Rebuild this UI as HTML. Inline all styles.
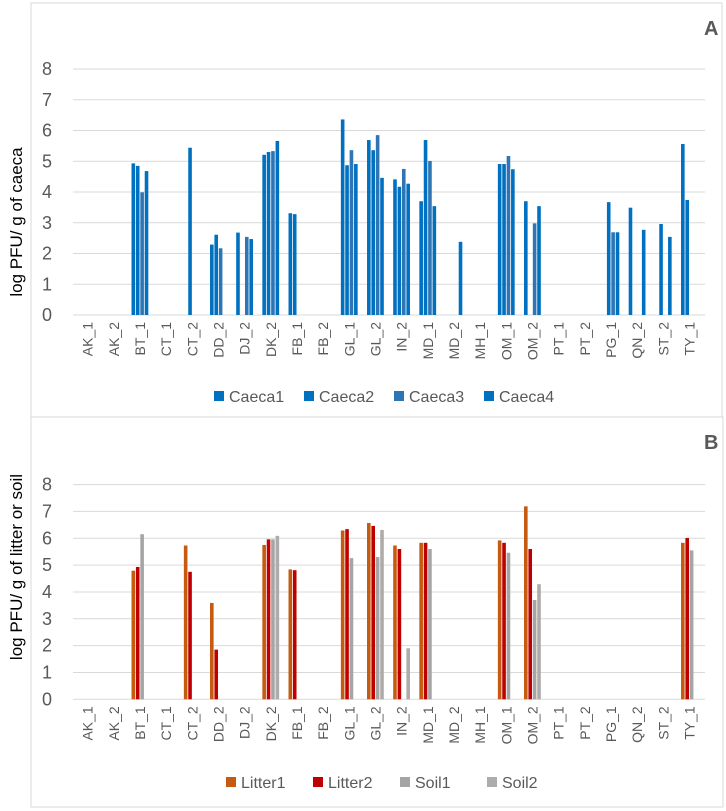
<!DOCTYPE html>
<html><head><meta charset="utf-8">
<style>
html,body{margin:0;padding:0;background:#fff;}
svg{display:block;font-family:"Liberation Sans",sans-serif;}
</style></head>
<body>
<svg id="c" width="726" height="811" viewBox="0 0 726 811">
  <rect x="31" y="3" width="691" height="414" fill="#fff" stroke="#d9d9d9" stroke-width="1"/>
  <rect x="31" y="417" width="692" height="390" fill="#fff" stroke="#d9d9d9" stroke-width="1"/>
  <text x="704" y="35" font-size="20" font-weight="bold" fill="#595959">A</text>
  <text x="704" y="449" font-size="20" font-weight="bold" fill="#595959">B</text>
  <text transform="translate(22,222) rotate(-90)" text-anchor="middle" font-size="17" fill="#000">log PFU/ g of caeca</text>
  <text transform="translate(22,567) rotate(-90)" text-anchor="middle" font-size="17" fill="#000">log PFU/ g of litter or soil</text>
  <g id="ga"></g>
  <g id="gb"></g>
</svg>
<script>
const categories = ["AK_1","AK_2","BT_1","CT_1","CT_2","DD_2","DJ_2","DK_2","FB_1","FB_2","GL_1","GL_2","IN_2","MD_1","MD_2","MH_1","OM_1","OM_2","PT_1","PT_2","PG_1","QN_2","ST_2","TY_1"];
const yTicks = [0,1,2,3,4,5,6,7,8];
const seriesNamesA = ["Caeca1","Caeca2","Caeca3","Caeca4"];
const caeca1 = [0,0,4.93,0,0,2.29,2.68,5.21,3.31,0,6.36,5.69,4.41,3.70,0,0,4.91,3.70,0,0,0,3.49,0,5.56];
const caeca2 = [0,0,4.85,0,5.44,2.61,0,5.30,3.28,0,4.87,5.36,4.17,5.69,0,0,4.91,0,0,0,3.67,0,2.96,3.74];
const caeca3 = [0,0,3.99,0,0,2.17,2.54,5.33,0,0,5.36,5.85,4.75,5.01,0,0,5.17,2.98,0,0,2.69,0,0,0];
const caeca4 = [0,0,4.68,0,0,0,2.47,5.66,0,0,4.91,4.46,4.27,3.54,2.38,0,4.74,3.54,0,0,2.69,2.77,2.54,0];
const seriesNamesB = ["Litter1","Litter2","Soil1","Soil2"];
const litter1 = [0,0,4.79,0,5.73,3.59,0,5.75,4.84,0,6.29,6.57,5.73,5.83,0,0,5.92,7.19,0,0,0,0,0,5.83];
const litter2 = [0,0,4.93,0,4.75,1.85,0,5.96,4.81,0,6.34,6.46,5.60,5.83,0,0,5.83,5.60,0,0,0,0,0,6.01];
const soil1 = [0,0,6.15,0,0,0,0,5.96,0,0,5.26,5.30,0,5.60,0,0,5.46,3.70,0,0,0,0,0,5.55];
const soil2 = [0,0,0,0,0,0,0,6.09,0,0,0,6.31,1.90,0,0,0,0,4.29,0,0,0,0,0,0];

const NS="http://www.w3.org/2000/svg";
function mk(tag, attrs, parent){const e=document.createElementNS(NS,tag);for(const k in attrs)e.setAttribute(k,attrs[k]);parent.appendChild(e);return e;}

function drawChart(g, cfg){
  const left=74.5, width=628, band=width/categories.length, slot=4.4, bw=3.6;
  const xc=i=>left+band*(i+0.5);
  const y=v=>cfg.y0-v*cfg.unit;
  yTicks.forEach(t=>{
    const l=mk('line',{x1:73,x2:705,y1:y(t),y2:y(t),stroke:'#d9d9d9','stroke-width':1},g);
    
    
    const tx=mk('text',{x:52,y:y(t)+6,'text-anchor':'end','font-size':18,fill:'#595959'},g);
    tx.textContent=t;
    
    
  });
  cfg.series.forEach((s,si)=>{
    s.forEach((v,i)=>{
      if(!v)return;
      const x=xc(i)+(si-1.5)*slot-bw/2;
      const r=mk('rect',{x:x,y:y(v),width:bw,height:v*cfg.unit,fill:cfg.colors[si]},g);
      
      
    });
  });
  categories.forEach((c,i)=>{
    const tx=mk('text',{transform:'translate('+(xc(i)+5)+','+(cfg.y0+7)+') rotate(-90)','text-anchor':'end','font-size':14,fill:'#595959'},g);
    tx.textContent=c;
    
    
  });
  cfg.names.forEach((n,si)=>{
    const lx=cfg.legX+si*cfg.legStep;
    const sq=mk('rect',{x:lx,y:cfg.legY-11,width:10,height:10,fill:cfg.colors[si]},g);
    
    
    const tx=mk('text',{x:lx+15,y:cfg.legY,'font-size':16,fill:'#595959'},g);
    tx.textContent=n;
    
    
  });
}
drawChart(document.getElementById('ga'),{y0:315,unit:30.75,series:[caeca1,caeca2,caeca3,caeca4],names:seriesNamesA,colors:['#0070C0','#0070C0','#2E75B6','#0070C0'],legX:214,legY:402,legStep:90});
drawChart(document.getElementById('gb'),{y0:699.3,unit:26.84,series:[litter1,litter2,soil1,soil2],names:seriesNamesB,colors:['#C55A11','#C00000','#A5A5A5','#AFABAB'],legX:226,legY:788,legStep:87});
</script>
</body></html>
